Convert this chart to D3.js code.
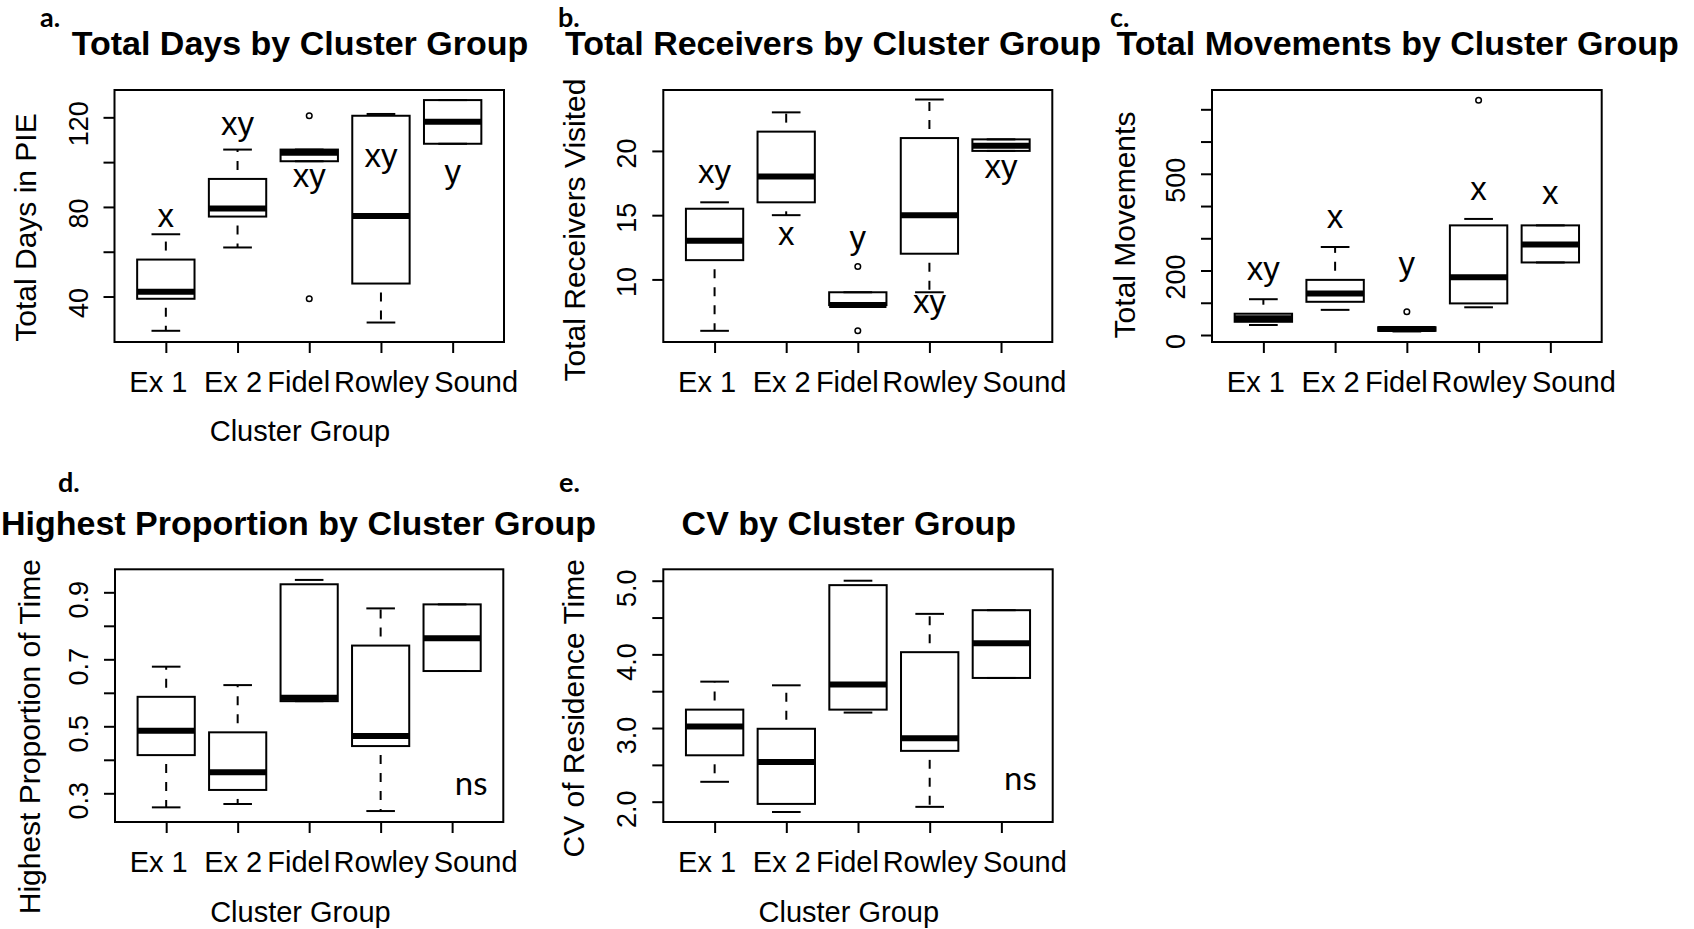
<!DOCTYPE html>
<html><head><meta charset="utf-8">
<script src="https://cdn.jsdelivr.net/npm/d3@7"></script>
<style>body{margin:0;background:#fff}svg{display:block}</style>
</head><body><svg id="chart" width="1694" height="929"></svg>
<script>
// ---------------- DATA ----------------
const categories = ["Ex 1", "Ex 2", "Fidel", "Rowley", "Sound"];

// five-number summaries per group: [lower whisker, Q1, median, Q3, upper whisker]
const daysStats = [
  [24.7, 39.0, 42.1, 56.5, 67.8],
  [61.9, 75.7, 79.3, 92.5, 105.6],
  [100.4, 100.4, 104.2, 105.6, 105.6],
  [28.4, 45.8, 75.9, 120.7, 121.5],
  [108.2, 108.2, 118.0, 127.7, 127.7]
];
const daysOutliers = [[], [], [120.7, 39.0], [], []];
const daysLetters = ["x", "xy", "xy", "xy", "y"];
const daysLetterY = [71.1, 112.1, 89.1, 98.0, 90.6];
const daysTicks = [40, 60, 80, 100, 120];
const daysTickLabels = ["40", "", "80", "", "120"];
const daysDomain = [19.7, 132.2];

const receiversStats = [
  [6, 11.5, 13, 15.5, 16],
  [15, 16, 18, 21.5, 23],
  [8, 8, 8, 9, 9],
  [9, 12, 15, 21, 24],
  [20, 20, 20.4, 20.9, 20.9]
];
const receiversOutliers = [[], [], [11, 6], [], []];
const receiversLetters = ["xy", "x", "y", "xy", "xy"];
const receiversLetterY = [17.5, 12.7, 12.4, 7.4, 17.9];
const receiversTicks = [10, 15, 20];
const receiversTickLabels = ["10", "15", "20"];
const receiversDomain = [5.13, 24.74];

const movementsStats = [
  [31, 41, 52, 66, 111],
  [78, 103, 129, 171, 273],
  [11, 13, 19, 24, 24],
  [86, 98, 179, 340, 360],
  [225, 225, 281, 340, 340]
];
const movementsOutliers = [[], [], [72], [728], []];
const movementsLetters = ["xy", "x", "y", "x", "x"];
const movementsLetterY = [170.6, 331, 186, 418.7, 406.3];
const movementsTicks = [0, 100, 200, 300, 400, 500, 600, 700];
const movementsTickLabels = ["0", "", "200", "", "", "500", "", ""];
const movementsDomain = [-21.7, 759.9];

const proportionStats = [
  [0.258, 0.414, 0.487, 0.588, 0.678],
  [0.268, 0.310, 0.363, 0.482, 0.623],
  [0.575, 0.575, 0.585, 0.924, 0.937],
  [0.247, 0.441, 0.471, 0.741, 0.852],
  [0.665, 0.665, 0.763, 0.864, 0.864]
];
const proportionOutliers = [[], [], [], [], []];
const proportionNote = "ns";
const proportionNoteY = 0.295;
const proportionTicks = [0.3, 0.4, 0.5, 0.6, 0.7, 0.8, 0.9];
const proportionTickLabels = ["0.3", "", "0.5", "", "0.7", "", "0.9"];
const proportionDomain = [0.2143, 0.9687];

const cvStats = [
  [2.27, 2.63, 3.02, 3.25, 3.63],
  [1.86, 1.97, 2.54, 2.99, 3.58],
  [3.21, 3.25, 3.59, 4.94, 5.00],
  [1.93, 2.69, 2.86, 4.03, 4.55],
  [3.68, 3.68, 4.15, 4.60, 4.60]
];
const cvOutliers = [[], [], [], [], []];
const cvNote = "ns";
const cvNoteY = 2.16;
const cvTicks = [2.0, 2.5, 3.0, 3.5, 4.0, 4.5, 5.0];
const cvTickLabels = ["2.0", "", "3.0", "", "4.0", "", "5.0"];
const cvDomain = [1.7244, 5.155];

// ---------------- LAYOUT / STYLE ----------------
const FONT = "'Liberation Sans', Arial, Helvetica, sans-serif";
const TAGFONT = "Lato, 'Open Sans', sans-serif";
const labelShift = [-8, -5, -11, 0, 23];

const panels = [
  {tag: "a.", title: "Total Days by Cluster Group", ylab: "Total Days in PIE", xlab: "Cluster Group",
   stats: daysStats, outliers: daysOutliers, letters: daysLetters, letterY: daysLetterY,
   ticks: daysTicks, tickLabels: daysTickLabels, domain: daysDomain,
   L: {x0: 114.5, x1: 504, y0: 90, y1: 342, titleX: 300, titleY: 55, tagX: 40, tagY: 27,
       ylabX: 35.7, ylabY: 227.5, xlabX: 300, xlabY: 441, tdy: 6}},
  {tag: "b.", title: "Total Receivers by Cluster Group", ylab: "Total Receivers Visited", xlab: null,
   stats: receiversStats, outliers: receiversOutliers, letters: receiversLetters, letterY: receiversLetterY,
   ticks: receiversTicks, tickLabels: receiversTickLabels, domain: receiversDomain,
   L: {x0: 663.3, x1: 1052.3, y0: 90, y1: 342, titleX: 833, titleY: 55, tagX: 558, tagY: 27,
       ylabX: 585, ylabY: 230, tdy: 2}},
  {tag: "c.", title: "Total Movements by Cluster Group", ylab: "Total Movements", xlab: null,
   stats: movementsStats, outliers: movementsOutliers, letters: movementsLetters, letterY: movementsLetterY,
   ticks: movementsTicks, tickLabels: movementsTickLabels, domain: movementsDomain,
   L: {x0: 1212, x1: 1601.7, y0: 90, y1: 342, titleX: 1397.7, titleY: 55, tagX: 1110, tagY: 27,
       ylabX: 1134.5, ylabY: 225, tdy: 6}},
  {tag: "d.", title: "Highest Proportion by Cluster Group", ylab: "Highest Proportion of Time", xlab: "Cluster Group",
   stats: proportionStats, outliers: proportionOutliers, note: proportionNote, noteY: proportionNoteY,
   ticks: proportionTicks, tickLabels: proportionTickLabels, domain: proportionDomain,
   L: {x0: 115, x1: 503.3, y0: 569.3, y1: 822, titleX: 298.5, titleY: 535, tagX: 58, tagY: 492,
       ylabX: 40.2, ylabY: 736.7, xlabX: 300.4, xlabY: 922, tdy: 7}},
  {tag: "e.", title: "CV by Cluster Group", ylab: "CV of Residence Time", xlab: "Cluster Group",
   stats: cvStats, outliers: cvOutliers, note: cvNote, noteY: cvNoteY,
   ticks: cvTicks, tickLabels: cvTickLabels, domain: cvDomain,
   L: {x0: 663.3, x1: 1052.7, y0: 569.3, y1: 822, titleX: 848.8, titleY: 535, tagX: 559, tagY: 492,
       ylabX: 584.4, ylabY: 708.3, xlabX: 848.8, xlabY: 922, tdy: 7}}
];

const svg = d3.select("#chart");
svg.append("rect").attr("width", 1694).attr("height", 929).attr("fill", "#fff");

panels.forEach(p => {
  const L = p.L;
  const g = svg.append("g");
  const x = d3.scalePoint().domain(categories).range([L.x0, L.x1]).padding(0.716);
  const y = d3.scaleLinear().domain(p.domain).range([L.y1, L.y0]);
  const bw = x.step() * 0.8;

  // y axis
  const gy = g.append("g").attr("transform", `translate(${L.x0},0)`)
    .call(d3.axisLeft(y).tickValues(p.ticks).tickSize(11).tickPadding(0)
      .tickFormat((d, i) => p.tickLabels[i]));
  gy.select(".domain").remove();
  gy.selectAll(".tick line").attr("stroke", "#000").attr("stroke-width", 2);
  gy.selectAll(".tick text")
    .attr("x", null).attr("dy", null)
    .attr("transform", `translate(-27,${L.tdy}) rotate(-90)`)
    .attr("text-anchor", "middle")
    .attr("fill", "#000")
    .style("font-family", FONT).style("font-size", "27px");

  // x axis
  const gx = g.append("g").attr("transform", `translate(0,${L.y1})`)
    .call(d3.axisBottom(x).tickSize(11).tickPadding(0));
  gx.select(".domain").remove();
  gx.selectAll(".tick line").attr("stroke", "#000").attr("stroke-width", 2);
  gx.selectAll(".tick text")
    .attr("y", 49.7).attr("dy", null)
    .attr("x", (d, i) => labelShift[i])
    .attr("fill", "#000")
    .style("font-family", FONT).style("font-size", "29px");

  // boxes
  categories.forEach((c, i) => {
    const s = p.stats[i];
    const cx = x(c);
    const bg = g.append("g");
    // whiskers
    [[s[1], s[0]], [s[3], s[4]]].forEach(([a, b]) => {
      if (a === b) return;
      bg.append("line").attr("x1", cx).attr("x2", cx).attr("y1", y(a)).attr("y2", y(b))
        .attr("stroke", "#000").attr("stroke-width", 2)
        .attr("stroke-dasharray", "9 9").attr("stroke-dashoffset", 9);
    });
    // staples
    [s[0], s[4]].forEach(v => {
      bg.append("line").attr("x1", cx - bw / 4).attr("x2", cx + bw / 4)
        .attr("y1", y(v)).attr("y2", y(v)).attr("stroke", "#000").attr("stroke-width", 2);
    });
    // box
    bg.append("rect").attr("x", cx - bw / 2).attr("y", y(s[3]))
      .attr("width", bw).attr("height", y(s[1]) - y(s[3]))
      .attr("fill", "none").attr("stroke", "#000").attr("stroke-width", 2);
    // median
    bg.append("line").attr("x1", cx - bw / 2).attr("x2", cx + bw / 2)
      .attr("y1", y(s[2])).attr("y2", y(s[2])).attr("stroke", "#000").attr("stroke-width", 6);
    // outliers
    p.outliers[i].forEach(v => {
      bg.append("circle").attr("cx", cx).attr("cy", y(v)).attr("r", 2.8)
        .attr("fill", "none").attr("stroke", "#000").attr("stroke-width", 1.5);
    });
    // significance letters
    if (p.letters) {
      g.append("text").attr("x", cx).attr("y", y(p.letterY[i]))
        .attr("text-anchor", "middle").style("font-family", FONT).style("font-size", "33px")
        .text(p.letters[i]);
    }
  });

  if (p.note) {
    g.append("text").attr("x", x(categories[4]) + 19).attr("y", y(p.noteY))
      .attr("text-anchor", "middle").style("font-family", TAGFONT).style("font-size", "33px")
      .text(p.note);
  }

  // frame
  g.append("rect").attr("x", L.x0).attr("y", L.y0).attr("width", L.x1 - L.x0).attr("height", L.y1 - L.y0)
    .attr("fill", "none").attr("stroke", "#000").attr("stroke-width", 2);

  // title
  g.append("text").attr("x", L.titleX).attr("y", L.titleY).attr("text-anchor", "middle")
    .style("font-family", FONT).style("font-size", "34px").style("font-weight", "bold")
    .text(p.title);
  // panel tag
  g.append("text").attr("x", L.tagX).attr("y", L.tagY)
    .style("font-family", TAGFONT).style("font-size", "27px").style("font-weight", "bold")
    .text(p.tag);
  // y label
  g.append("text").attr("transform", `translate(${L.ylabX},${L.ylabY}) rotate(-90)`)
    .attr("text-anchor", "middle").style("font-family", FONT).style("font-size", "30px")
    .text(p.ylab);
  // x label
  if (p.xlab) {
    g.append("text").attr("x", L.xlabX).attr("y", L.xlabY).attr("text-anchor", "middle")
      .style("font-family", FONT).style("font-size", "29px").text(p.xlab);
  }
});
</script>
</body></html>
